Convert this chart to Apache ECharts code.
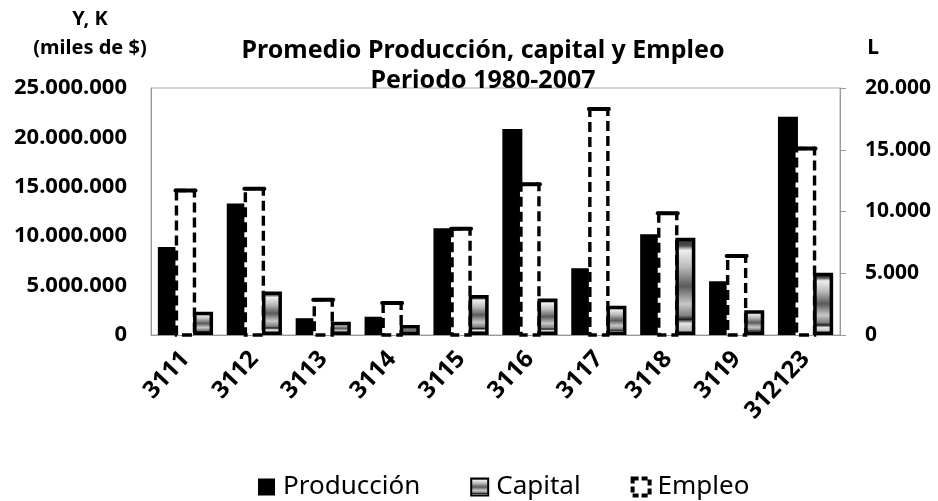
<!DOCTYPE html>
<html><head><meta charset="utf-8">
<script src="https://cdn.jsdelivr.net/npm/echarts@6/dist/echarts.min.js"></script>
<style>html,body{margin:0;padding:0;background:#fff}#c{width:938px;height:501px}</style>
</head><body><div id="c"></div>
<script>
const categories = ['3111','3112','3113','3114','3115','3116','3117','3118','3119','312123'];
const produccion = [8900000,13300000,1700000,1850000,10800000,20850000,6750000,10200000,5450000,22100000];
const capital = [2350000,4400000,1350000,1000000,4050000,3700000,2950000,9850000,2500000,6300000];
const empleo = [11700,11850,2850,2600,8600,12200,18300,9850,6400,15100];
const leftTickMax = 25000000, leftTickStep = 5000000;
const rightTickMax = 20000, rightTickStep = 5000;

const FONT = 'Noto Sans';
const BAR_W = 20;
const fmt = v => String(v).replace(/\B(?=(\d{3})+(?!\d))/g, '.');

const capitalFill = new echarts.graphic.LinearGradient(0, 0, 0, 1, [
  {offset: 0, color: '#333'},
  {offset: 0.08, color: '#4a4a4a'},
  {offset: 0.13, color: '#eee'},
  {offset: 0.3, color: '#bbb'},
  {offset: 0.5, color: '#5a5a5a'},
  {offset: 0.68, color: '#c8c8c8'},
  {offset: 0.8, color: '#808080'},
  {offset: 0.84, color: '#1a1a1a'},
  {offset: 0.88, color: '#e6e6e6'},
  {offset: 1, color: '#999'}
]);

const chart = echarts.init(document.getElementById('c'), null, {renderer: 'canvas'});
chart.setOption({
  animation: false,
  backgroundColor: '#fff',
  textStyle: {fontFamily: FONT},
  title: {
    text: 'Promedio Producción, capital y Empleo\nPeriodo 1980-2007',
    left: 478, top: 31, textAlign: 'center',
    textStyle: {fontFamily: FONT, fontSize: 25, fontWeight: 'bold', color: '#000', lineHeight: 30}
  },
  grid: {left: 151, right: 98, top: 88, bottom: 166, show: true, borderColor: '#aaa', borderWidth: 1, backgroundColor: 'transparent'},
  legend: {
    bottom: -4, left: 253, icon: 'rect', itemWidth: 17, itemHeight: 17, itemGap: 50,
    textStyle: {fontFamily: FONT, fontSize: 26, color: '#000', padding: [0, 0, 0, 3]},
    data: [
      {name: 'Producción'},
      {name: 'Capital'},
      {name: 'Empleo', itemStyle: {color: '#fff', borderColor: '#000', borderWidth: 4, borderType: [6, 3]}}
    ]
  },
  xAxis: {
    type: 'category', data: categories,
    axisLine: {lineStyle: {color: '#999', width: 1}},
    axisTick: {show: false},
    axisLabel: {rotate: 47, margin: 20, color: '#000', fontFamily: FONT, fontSize: 24, fontWeight: 'bold', interval: 0}
  },
  yAxis: [
    {
      type: 'value', min: 0, max: leftTickMax, interval: leftTickStep,
      name: 'Y, K\n(miles de $)', nameLocation: 'end', nameGap: 25,
      nameTextStyle: {fontFamily: FONT, fontSize: 20, fontWeight: 'bold', color: '#000', lineHeight: 29, align: 'center', padding: [0, 122, 0, 0]},
      axisLine: {show: true, lineStyle: {color: '#999'}},
      axisTick: {show: false},
      splitLine: {show: false},
      axisLabel: {formatter: fmt, margin: 24, color: '#000', fontFamily: FONT, fontSize: 22, fontWeight: 'bold'}
    },
    {
      type: 'value', min: 0, max: rightTickMax, interval: rightTickStep, position: 'right',
      name: 'L', nameLocation: 'end', nameGap: 25,
      nameTextStyle: {fontFamily: FONT, fontSize: 21, fontWeight: 'bold', color: '#000', lineHeight: 29, align: 'center', padding: [0, 0, 0, 66]},
      axisLine: {show: true, lineStyle: {color: '#999'}},
      axisTick: {show: true, inside: false, length: 6, lineStyle: {color: '#999'}},
      splitLine: {show: false},
      axisLabel: {formatter: fmt, margin: 25, color: '#000', fontFamily: FONT, fontSize: 21, fontWeight: 'bold'}
    }
  ],
  series: [
    {
      name: 'Producción', type: 'bar', yAxisIndex: 0, data: produccion,
      barWidth: BAR_W, barGap: '-12%', barCategoryGap: '23%', z: 2,
      itemStyle: {color: '#000'}
    },
    {
      name: 'Empleo', type: 'bar', yAxisIndex: 1, data: empleo,
      barWidth: BAR_W, z: 3,
      itemStyle: {color: '#fff', borderColor: '#fff', borderWidth: 4}
    },
    {
      name: 'Capital', type: 'bar', yAxisIndex: 0, data: capital,
      barWidth: BAR_W, z: 4,
      itemStyle: {color: capitalFill, borderColor: '#000', borderWidth: 3.5}
    },
    {
      name: 'Empleo', type: 'custom', yAxisIndex: 1, z: 5,
      data: empleo.map((v, i) => [i, v]),
      encode: {x: 0, y: 1},
      renderItem: function (params, api) {
        const top = api.coord([api.value(0), api.value(1)]);
        const base = api.coord([api.value(0), 0]);
        const x = top[0] - BAR_W / 2 + 1;
        const w = BAR_W - 2;
        return {
          type: 'group',
          children: [
            {type: 'rect', shape: {x: x, y: top[1], width: w, height: base[1] - top[1]},
             style: {fill: null, stroke: '#000', lineWidth: 3.4, lineDash: [10, 5]}},
            {type: 'line', shape: {x1: x - 1, y1: top[1], x2: x + w + 1, y2: top[1]},
             style: {stroke: '#000', lineWidth: 4, lineCap: 'round'}}
          ]
        };
      }
    }
  ]
});
</script></body></html>
